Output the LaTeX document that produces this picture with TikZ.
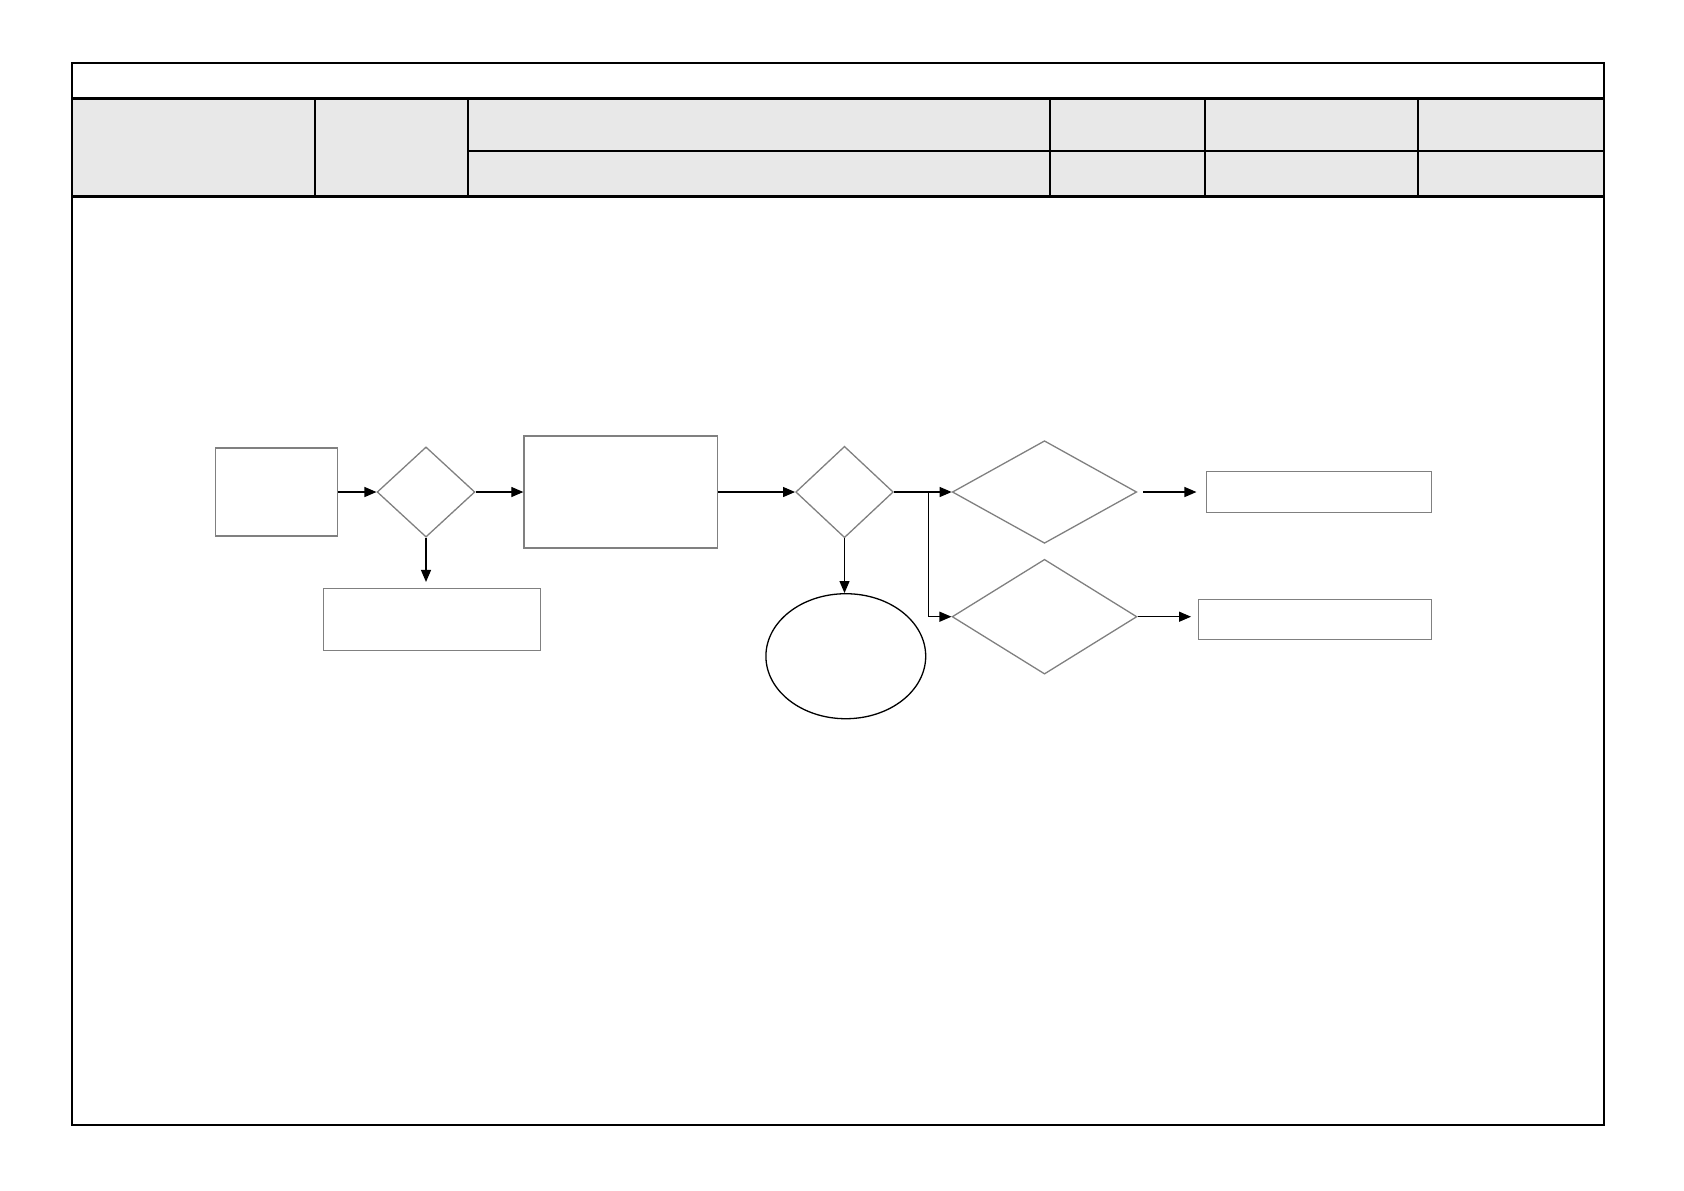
\documentclass[tikz,border=0pt]{standalone}
\usepackage{xcolor}
\usepackage{tikz}
\usetikzlibrary{shapes.geometric,arrows.meta}

\definecolor{headgray}{HTML}{E8E8E8}
\definecolor{boxgray}{HTML}{808080}

\tikzset{
    box/.style={draw=boxgray,line width=0.65pt,inner sep=0pt},
    decision/.style={shape=diamond,draw=boxgray,line width=0.65pt,inner sep=0pt},
    terminal/.style={shape=ellipse,draw=black,line width=0.65pt,inner sep=0pt},
    flow/.style={-{Triangle[length=6pt,width=5pt]},line width=0.6pt}
}

\begin{document}
\begin{tikzpicture}[x=0.5pt,y=-0.5pt]
    \useasboundingbox (0,0) rectangle (1684,1190);

    % header table
    \fill[headgray] (72,98.8) rectangle (1603.5,196.5);
    \draw[line width=1pt] (72,63.4) rectangle (1603.5,1124.5);
    \draw[line width=1.5pt] (72,98.8) -- (1603.5,98.8);
    \draw[line width=1.5pt] (72,196.5) -- (1603.5,196.5);
    \draw[line width=1pt] (468.3,151.4) -- (1603.5,151.4);
    \foreach \x in {314.7,468.3,1050.4,1205,1417.7}
        \draw[line width=1pt] (\x,98.8) -- (\x,196.5);

    % flow
    \node[box,minimum width=60.7pt,minimum height=44pt] (start) at (276.5,492) {};
    \node[decision,minimum width=48.9pt,minimum height=45.1pt] (check) at (426,492) {};
    \node[box,minimum width=96.7pt,minimum height=55.9pt] (task) at (620.7,492) {};
    \node[box,minimum width=108.5pt,minimum height=31.1pt] (reject) at (431.8,619.7) {};
    \node[decision,minimum width=48.8pt,minimum height=45.7pt] (route) at (844.5,492) {};
    \node[terminal,minimum width=79.9pt,minimum height=62.5pt] (stop) at (845.8,656.2) {};
    \node[decision,minimum width=92.2pt,minimum height=51.3pt] (pass) at (1044.5,492) {};
    \node[decision,minimum width=92.4pt,minimum height=57.4pt] (retry) at (1044.5,616.7) {};
    \node[box,minimum width=112.5pt,minimum height=20.2pt] (passout) at (1319.2,492) {};
    \node[box,minimum width=116.7pt,minimum height=19.8pt] (retryout) at (1315,619.5) {};

    \draw[flow] (start) -- (check);
    \draw[flow] (check) -- (task);
    \draw[flow,shorten >=3pt] (check.south) -- (check.south |- reject.north);
    \draw[flow] (task) -- (route);
    \draw[flow] (route.south) -- (route.south |- stop.north);
    \draw[flow] (route) -- (pass);
    \coordinate (split) at (928.3,492);
    \draw[flow] (split) |- (retry.west);
    \draw[flow,shorten <=3pt,shorten >=4.8pt] (pass) -- (passout);
    \draw[flow,shorten >=3.3pt] (retry.east) -- (retry.east -| retryout.west);
\end{tikzpicture}
\end{document}
